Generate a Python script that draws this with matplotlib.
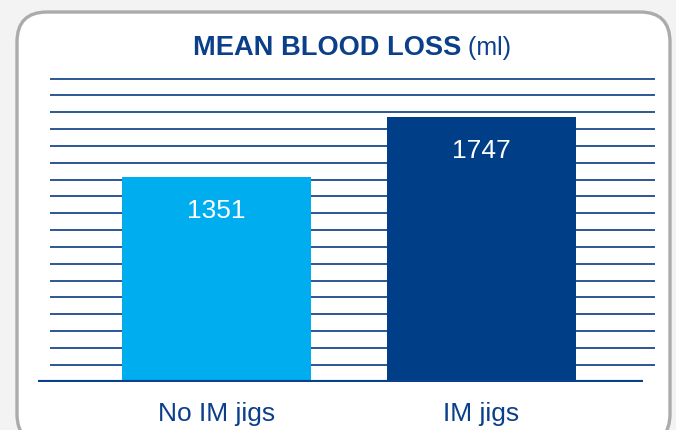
import numpy as np
import matplotlib
matplotlib.use("Agg")
import matplotlib.pyplot as plt
from matplotlib.patches import FancyBboxPatch
from matplotlib.transforms import IdentityTransform

# data
categories = ["No IM jigs", "IM jigs"]
blood_loss = [1351, 1747]
bar_colors = ["#00AEEF", "#003F88"]
title_main = "MEAN BLOOD LOSS"
title_unit = " (ml)"

dark_blue = "#0B3F8A"
W, H = 676, 431

fig = plt.figure(figsize=(W / 100, H / 100), dpi=100, facecolor="#F3F3F3")

# rounded white panel with grey border (pixel coords), kept behind the axes
panel = FancyBboxPatch((17, H - 445), 653, 432,
                       boxstyle="round,pad=0,rounding_size=30",
                       transform=IdentityTransform(),
                       facecolor="white", edgecolor="#ABABAB", lw=2.4, zorder=-5)
fig.patches.append(panel)

# axes placed so that y=0 sits at px ~382 and 2000 at px ~79
ax = fig.add_axes([30 / W, (H - 382.5) / H, 630 / W, 311 / H])
ax.set_zorder(2)
ax.set_facecolor("none")
ax.set_xlim(-0.7038, 1.6736)
ax.set_ylim(0, 2053)

# decorative horizontal rules
rules = np.arange(1, 19) * 2000 / 18
ax.hlines(rules, -0.628, 1.655, color="#1A4A8C", lw=1.3, zorder=1)

x = np.arange(len(categories))
bars = ax.bar(x, blood_loss, width=0.713, color=bar_colors, zorder=2)
ax.hlines(0, -0.674, 1.609, color=dark_blue, lw=3, zorder=3)

for xi, v in zip(x, blood_loss):
    ax.annotate(str(v), (xi, v), xytext=(0, -24), textcoords="offset points",
                ha="center", va="center", color="white",
                fontsize=19, family="Liberation Sans", zorder=4)

ax.set_xticks(x)
ax.set_xticklabels(categories, fontsize=19, family="Liberation Sans", color=dark_blue)
ax.tick_params(axis="x", length=0, pad=14)
ax.set_yticks([])
for s in ax.spines.values():
    s.set_visible(False)

# two-part title: bold text + regular unit
t1 = fig.text(0, 0, title_main, fontsize=19.6, fontweight="bold",
              family="Liberation Sans", color=dark_blue, va="baseline")
t2 = fig.text(0, 0, title_unit, fontsize=18, family="Liberation Sans",
              color=dark_blue, va="baseline")
fig.canvas.draw()
r = fig.canvas.get_renderer()
w1 = t1.get_window_extent(r).width
w2 = t2.get_window_extent(r).width
x0 = 352 - (w1 + w2) / 2
ybase = (H - 55) / H
t1.set_position((x0 / W, ybase))
t2.set_position(((x0 + w1) / W, ybase))

fig.savefig("out.png", dpi=100, facecolor=fig.get_facecolor())
